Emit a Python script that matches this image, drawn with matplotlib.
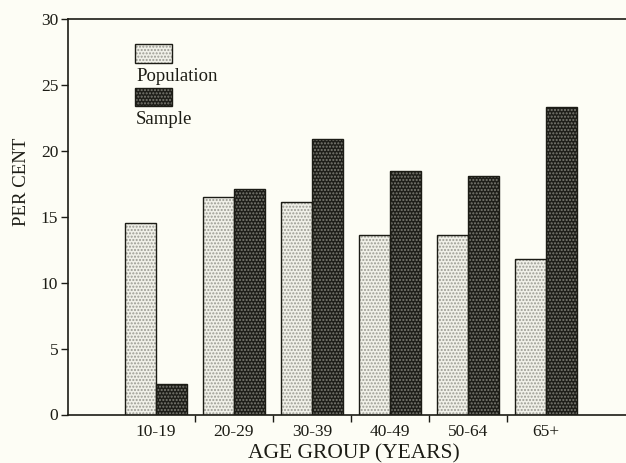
import matplotlib
matplotlib.use("Agg")
import matplotlib.pyplot as plt
from matplotlib.patches import Rectangle
import numpy as np

categories = ["10-19", "20-29", "30-39", "40-49", "50-64", "65+"]
population = [14.5, 16.5, 16.1, 13.6, 13.6, 11.8]
sample = [2.3, 17.1, 20.9, 18.5, 18.1, 23.3]
yticks = [0, 5, 10, 15, 20, 25, 30]

BG = "#fdfdf5"
INK = "#1c1c15"
POP_FACE = "#f0f0e8"
POP_DOT = "#9a9a92"
SAM_FACE = "#1e1e19"
SAM_DOT = "#7c7c74"
HATCH = "....."

plt.rcParams["font.family"] = ["Liberation Serif", "DejaVu Serif"]
plt.rcParams["hatch.linewidth"] = 1.0

fig = plt.figure(figsize=(6.26, 4.63), dpi=100, facecolor=BG)
ax = fig.add_axes([68 / 626, 1 - 414.5 / 463, 1 - 68 / 626, (414.5 - 19) / 463])
ax.set_facecolor(BG)

x = np.arange(len(categories))
w = 0.4


def hatched_bars(xs, heights, face, dot):
    ax.bar(xs, heights, w, color=face, edgecolor=dot, hatch=HATCH, linewidth=0, zorder=2)
    ax.bar(xs, heights, w, fill=False, edgecolor=INK, linewidth=1.0, zorder=3)


hatched_bars(x - w / 2, population, POP_FACE, POP_DOT)
hatched_bars(x + w / 2, sample, SAM_FACE, SAM_DOT)

ax.set_xlim(-1.128, 6.03)
ax.set_ylim(0, 30)

for side in ["left", "top", "bottom"]:
    ax.spines[side].set_color(INK)
    ax.spines[side].set_linewidth(1.2)
ax.spines["right"].set_visible(False)

ax.set_yticks(yticks)
ax.set_yticklabels([str(t) for t in yticks])
ax.tick_params(axis="y", direction="out", length=5, width=1.0, color=INK,
               labelsize=12.5, labelcolor=INK, pad=2)

ax.set_xticks(x)
ax.set_xticklabels(categories)
ax.tick_params(axis="x", which="major", length=0, labelsize=12.5, labelcolor=INK, pad=7)
ax.set_xticks(x[:-1] + 0.5, minor=True)
ax.tick_params(axis="x", which="minor", direction="out", length=5, width=1.0, color=INK)

ax.set_xlabel("AGE GROUP (YEARS)", fontsize=15.5, color=INK)
ax.xaxis.label.set_va("baseline")
ax.xaxis.set_label_coords(0.513, (414.5 - 458) / 395.5)

ax.set_ylabel("PER CENT", fontsize=13.5, color=INK)
ax.yaxis.label.set_va("center")
ax.yaxis.set_label_coords((22 - 68) / 558, (414.5 - 182) / 395.5)


# legend drawn manually: box with label underneath
def legend_entry(y_box_top_px, y_base_px, face, dot, label):
    x0 = (135 - 68) / 558
    bw = 37 / 558
    bh = 18.5 / 395.5
    y1 = (414.5 - y_box_top_px) / 395.5
    ax.add_patch(Rectangle((x0, y1 - bh), bw, bh, transform=ax.transAxes,
                           facecolor=face, edgecolor=dot, hatch=HATCH, linewidth=0, zorder=4))
    ax.add_patch(Rectangle((x0, y1 - bh), bw, bh, transform=ax.transAxes,
                           fill=False, edgecolor=INK, linewidth=1.0, zorder=5))
    ax.text((136 - 68) / 558, (414.5 - y_base_px) / 395.5, label, transform=ax.transAxes,
            ha="left", va="baseline", fontsize=13.5, color=INK, zorder=5)


legend_entry(44, 81, POP_FACE, POP_DOT, "Population")
legend_entry(88, 124, SAM_FACE, SAM_DOT, "Sample")

fig.savefig("out.png", dpi=100, facecolor=BG)
